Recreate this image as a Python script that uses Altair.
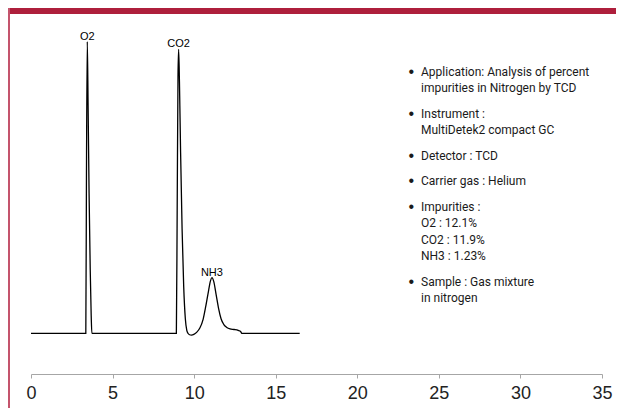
import altair as alt
import pandas as pd

# ---- chromatogram trace (retention time, min ; detector signal, arbitrary units) ----
time_min = [0, 3.36, 3.40, 3.45, 3.50, 3.56, 3.63, 3.69, 3.73,
            8.91, 8.96, 9.01, 9.05, 9.10, 9.17, 9.26, 9.36, 9.46, 9.55, 9.62,
            9.72, 9.83, 9.98, 10.15, 10.35, 10.55, 10.72, 10.88, 11.00, 11.09,
            11.20, 11.35, 11.50, 11.65, 11.82, 12.00, 12.20, 12.45, 12.70,
            12.85, 12.92, 16.47]
signal = [0, 0, 55, 100, 78, 48, 22, 6, 0,
          0, 42, 88, 97.4, 86, 62, 36, 16, 5, 1, 0,
          -0.5, -0.6, -0.4, 0.3, 1.8, 4.8, 9.5, 14.5, 18, 19.1,
          17.8, 13.2, 8.5, 5.0, 3.0, 2.0, 1.5, 1.3, 1.0,
          0.6, 0, 0]

# ---- peak labels ----
peak_names = ["O2", "CO2", "NH3"]
peak_times = [3.45, 9.05, 11.09]
peak_heights = [100, 97.4, 19.1]

# ---- axis ----
x_ticks = [0, 5, 10, 15, 20, 25, 30, 35]

# ---- notes ----
bullet_items = [
    ["Application: Analysis of percent", "impurities in Nitrogen by TCD"],
    ["Instrument :", "MultiDetek2 compact GC"],
    ["Detector : TCD"],
    ["Carrier gas : Helium"],
    ["Impurities :", "O2 : 12.1%", "CO2 : 11.9%", "NH3 : 1.23%"],
    ["Sample : Gas mixture", "in nitrogen"],
]

# ---- layout ----
W, H = 571, 354
PAD_L, PAD_T, PAD_R, PAD_B = 23, 12, 14, 34
X_MAX = 35
Y_MIN, Y_MAX = -13.96, 107.44
RED = "#ae1f3c"


def to_time(px):
    return px / W * X_MAX


def to_signal(py):
    return Y_MAX - py / H * (Y_MAX - Y_MIN)


trace = pd.DataFrame({"time": time_min, "signal": signal})
peaks = pd.DataFrame({"name": peak_names, "time": peak_times, "signal": peak_heights})

# note lines placed through the same scales
text_rows, dot_rows = [], []
y = 51.7
LH, GAP = 16.4, 25.6
for item in bullet_items:
    dot_rows.append({"txt": "\u2022", "time": to_time(377.5), "signal": to_signal(y)})
    for k, line in enumerate(item):
        text_rows.append({"txt": line, "time": to_time(390), "signal": to_signal(y + k * LH)})
    y += (len(item) - 1) * LH + GAP
notes = pd.DataFrame(text_rows)
dots = pd.DataFrame(dot_rows)

xscale = alt.Scale(domain=[0, X_MAX], nice=False, zero=False)
yscale = alt.Scale(domain=[Y_MIN, Y_MAX], nice=False, zero=False)

line = alt.Chart(trace).mark_line(color="black", strokeWidth=1.3, interpolate="monotone").encode(
    x=alt.X("time:Q", scale=xscale, title=None,
            axis=alt.Axis(values=x_ticks, grid=False, domainColor="#a6a6a6", tickColor="#a6a6a6",
                          tickSize=4, labelFontSize=18, labelFont="Liberation Sans",
                          labelColor="#222222", labelPadding=6, labelFlush=False)),
    y=alt.Y("signal:Q", scale=yscale, axis=None),
)

labels = alt.Chart(peaks).mark_text(font="Liberation Sans", fontSize=11, color="black",
                                     baseline="alphabetic", align="center", dy=-2).encode(
    x="time:Q", y="signal:Q", text="name:N")

note_text = alt.Chart(notes).mark_text(font="Roboto", fontSize=12, color="#1a1a1a",
                                        align="left", baseline="middle").encode(
    x="time:Q", y="signal:Q", text="txt:N")

note_dots = alt.Chart(dots).mark_text(font="Liberation Sans", fontSize=16, color="#1a1a1a",
                                       align="left", baseline="middle").encode(
    x="time:Q", y="signal:Q", text="txt:N")

dummy = pd.DataFrame({"d": [0]})
header = alt.Chart(dummy).mark_rect(color=RED).encode(
    x=alt.value(-PAD_L), x2=alt.value(W + PAD_R), y=alt.value(-PAD_T), y2=alt.value(-PAD_T + 6))
side = alt.Chart(dummy).mark_rect(color="#c4546c").encode(
    x=alt.value(-PAD_L), x2=alt.value(-PAD_L + 2), y=alt.value(-PAD_T), y2=alt.value(H + PAD_B))

chart = alt.layer(header, side, line, labels, note_dots, note_text).properties(
    width=W, height=H,
    autosize=alt.AutoSizeParams(type="none"),
    padding={"left": PAD_L, "top": PAD_T, "right": PAD_R, "bottom": PAD_B},
    background="white",
).configure_view(stroke=None)

chart.save("out.html", embed_options={"renderer": "svg", "actions": False})
